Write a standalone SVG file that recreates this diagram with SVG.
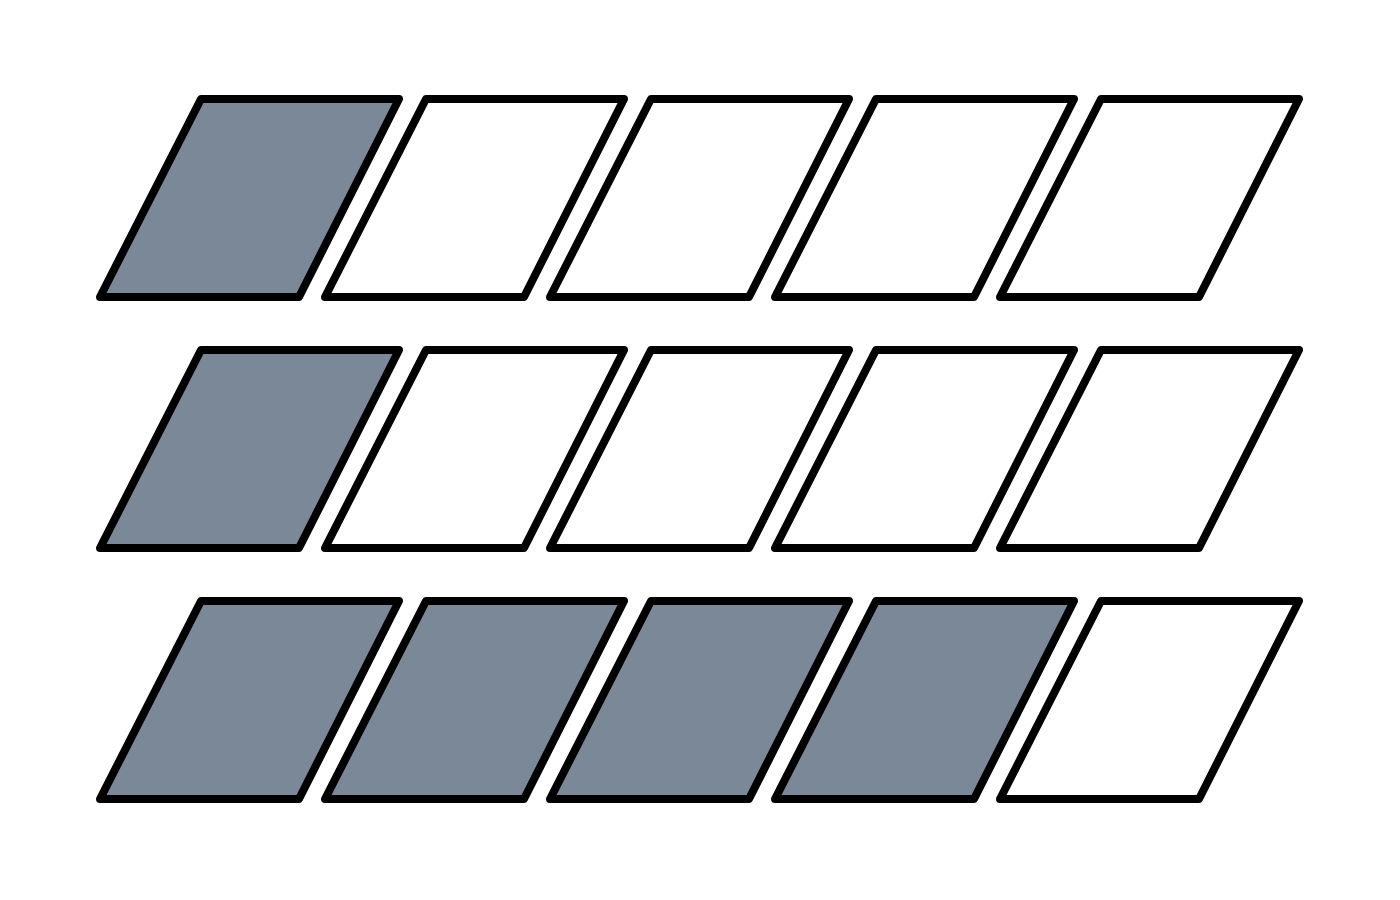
<svg xmlns="http://www.w3.org/2000/svg" width="1400" height="900" viewBox="0 0 1400 900">
<style>
.p{stroke:#000;stroke-width:8;stroke-linejoin:round}
.f{fill:#7b8898}
.e{fill:#fff}
</style>
<defs>
<polygon id="para" points="101,0 299,0 199,198 0,198"/>
</defs>
<rect width="1400" height="900" fill="#fff"/>
<g id="row1">
<g id="r1c1" transform="translate(100,99)"><use href="#para" class="p f"/></g>
<g id="r1c2" transform="translate(325,99)"><use href="#para" class="p e"/></g>
<g id="r1c3" transform="translate(550,99)"><use href="#para" class="p e"/></g>
<g id="r1c4" transform="translate(775,99)"><use href="#para" class="p e"/></g>
<g id="r1c5" transform="translate(1000,99)"><use href="#para" class="p e"/></g>
</g>
<g id="row2">
<g id="r2c1" transform="translate(100,350)"><use href="#para" class="p f"/></g>
<g id="r2c2" transform="translate(325,350)"><use href="#para" class="p e"/></g>
<g id="r2c3" transform="translate(550,350)"><use href="#para" class="p e"/></g>
<g id="r2c4" transform="translate(775,350)"><use href="#para" class="p e"/></g>
<g id="r2c5" transform="translate(1000,350)"><use href="#para" class="p e"/></g>
</g>
<g id="row3">
<g id="r3c1" transform="translate(100,601)"><use href="#para" class="p f"/></g>
<g id="r3c2" transform="translate(325,601)"><use href="#para" class="p f"/></g>
<g id="r3c3" transform="translate(550,601)"><use href="#para" class="p f"/></g>
<g id="r3c4" transform="translate(775,601)"><use href="#para" class="p f"/></g>
<g id="r3c5" transform="translate(1000,601)"><use href="#para" class="p e"/></g>
</g>
<g id="connectors"/>
</svg>
